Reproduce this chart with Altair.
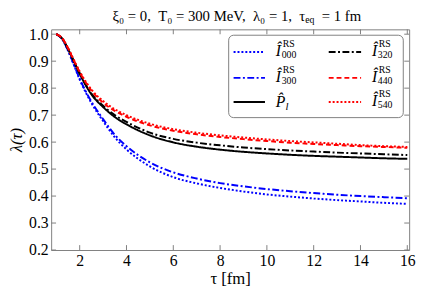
import altair as alt
import pandas as pd

# ---------------- data ----------------
tau = [1, 1.25, 1.5, 1.75, 2, 2.5, 3, 3.5, 4, 5, 6, 7, 8, 9, 10, 11, 12, 13, 14, 15, 16]
I000 = [1.0, 0.982, 0.939, 0.886, 0.832, 0.745, 0.678, 0.618, 0.573, 0.510, 0.470, 0.447, 0.430, 0.417, 0.406, 0.398, 0.391, 0.385, 0.380, 0.375, 0.371]
I300 = [1.0, 0.982, 0.940, 0.888, 0.835, 0.750, 0.685, 0.627, 0.585, 0.525, 0.488, 0.465, 0.448, 0.436, 0.426, 0.418, 0.411, 0.405, 0.400, 0.396, 0.392]
Pl   = [1.0, 0.984, 0.945, 0.899, 0.853, 0.777, 0.730, 0.693, 0.666, 0.625, 0.599, 0.583, 0.572, 0.564, 0.558, 0.553, 0.549, 0.546, 0.543, 0.540, 0.538]
I320 = [1.0, 0.984, 0.946, 0.900, 0.855, 0.780, 0.735, 0.700, 0.675, 0.635, 0.612, 0.598, 0.588, 0.580, 0.574, 0.569, 0.565, 0.561, 0.558, 0.555, 0.552]
I440 = [1.0, 0.985, 0.948, 0.903, 0.859, 0.791, 0.746, 0.716, 0.694, 0.662, 0.642, 0.629, 0.619, 0.611, 0.604, 0.598, 0.593, 0.589, 0.585, 0.582, 0.579]
I540 = [1.0, 0.985, 0.950, 0.905, 0.862, 0.795, 0.752, 0.722, 0.700, 0.668, 0.648, 0.635, 0.625, 0.617, 0.610, 0.604, 0.599, 0.594, 0.589, 0.585, 0.582]

series_keys = ["I000", "I300", "Pl", "I320", "I440", "I540"]
series_vals = [I000, I300, Pl, I320, I440, I540]
series_sub = ["000", "300", "l", "320", "440", "540"]

x_ticks = [2, 4, 6, 8, 10, 12, 14, 16]
y_ticks = [0.2, 0.3, 0.4, 0.5, 0.6, 0.7, 0.8, 0.9, 1.0]

# ---------------- styles ----------------
colors = {"I000": "#0000ff", "I300": "#0000ff", "Pl": "#000000",
          "I320": "#000000", "I440": "#ff0000", "I540": "#ff0000"}
dashes = {"I000": [2, 2], "I300": [7, 2.5, 2, 2.5], "Pl": [1, 0],
          "I320": [7, 2.5, 2, 2.5], "I440": [5, 3], "I540": [2, 2]}

W, H = 365, 225
FONT = "Liberation Serif, Times New Roman, DejaVu Serif, serif"
GRAY = "#808080"
NB = "\u00a0"

rows = []
for k, vals in zip(series_keys, series_vals):
    for t, v in zip(tau, vals):
        rows.append({"tau": t, "lam": v, "s": k})
df = pd.DataFrame(rows)

xs = alt.Scale(domain=[0.78, 16.08], nice=False, zero=False)
ys = alt.Scale(domain=[0.2, 1.018], nice=False, zero=False)
xaxis = alt.Axis(values=x_ticks, ticks=False, domain=False, grid=False, labelPadding=3,
                 labelFont=FONT, labelFontSize=16, labelColor="black",
                 titleFont=FONT, titleFontSize=17, titleFontWeight="normal", titleColor="black",
                 titleY=29, titleBaseline="middle", labelFlush=False)
yaxis = alt.Axis(values=y_ticks, ticks=False, domain=False, grid=False, labelPadding=3,
                 format=".1f", labelFont=FONT, labelFontSize=16, labelColor="black",
                 titleFont=FONT, titleFontSize=17, titleFontWeight="normal", titleColor="black",
                 titleFontStyle="italic", titleX=-35, titleY=H / 2, titleBaseline="middle",
                 labelFlush=False)
X = alt.X("tau:Q", scale=xs, axis=xaxis, title="τ [fm]")
Y = alt.Y("lam:Q", scale=ys, axis=yaxis, title="λ(τ)")

layers = []
for k in series_keys:
    layers.append(
        alt.Chart(df[df.s == k]).mark_line(
            color=colors[k], strokeDash=dashes[k], strokeWidth=2, interpolate="monotone", clip=True
        ).encode(x=X, y=Y)
    )

# inward ticks on all four sides
xt = pd.DataFrame({"tau": x_ticks})
yt = pd.DataFrame({"lam": y_ticks})
tick_style = dict(color=GRAY, strokeWidth=1)
layers.append(alt.Chart(xt).mark_rule(**tick_style).encode(x=X, y=alt.value(H - 5), y2=alt.value(H)))
layers.append(alt.Chart(xt).mark_rule(**tick_style).encode(x=X, y=alt.value(0), y2=alt.value(5)))
layers.append(alt.Chart(yt).mark_rule(**tick_style).encode(y=Y, x=alt.value(0), x2=alt.value(5)))
layers.append(alt.Chart(yt).mark_rule(**tick_style).encode(y=Y, x=alt.value(W - 5), x2=alt.value(W)))

one = alt.Data(values=[{"a": 0}])

def txt(s, x, y, size, align="left", style="normal"):
    return alt.Chart(one).mark_text(
        align=align, baseline="alphabetic", font=FONT, fontSize=size, fontStyle=style, color="black"
    ).encode(x=alt.value(x), y=alt.value(y), text=alt.value(s))

# legend frame
layers.append(alt.Chart(one).mark_rect(fill="white", stroke=GRAY, strokeWidth=1, cornerRadius=5).encode(
    x=alt.value(181), x2=alt.value(359), y=alt.value(6), y2=alt.value(90)))

row_y = [23, 49.5, 74]
col_sample = [(186, 218), (283, 316)]
col_text = [229, 327]
for i, k in enumerate(series_keys):
    c, r = divmod(i, 3)
    yy = row_y[r]
    x0, x1 = col_sample[c]
    layers.append(alt.Chart(one).mark_rule(color=colors[k], strokeDash=dashes[k], strokeWidth=2).encode(
        x=alt.value(x0), x2=alt.value(x1), y=alt.value(yy)))
    tx = col_text[c]
    if k == "Pl":
        layers.append(txt("P̂", tx, yy + 5, 16, style="italic"))
        layers.append(txt(series_sub[i], tx + 10, yy + 8, 11, style="italic"))
    else:
        layers.append(txt("Î", tx, yy + 4, 16, style="italic"))
        layers.append(txt("RS", tx + 7, yy - 5, 10))
        layers.append(txt(series_sub[i], tx + 6, yy + 6, 10))

# title
title_main = f"ξ₀ = 0,{NB} T₀ = 300{NB}MeV,{NB} λ₀ = 1,{NB} τ"
layers.append(txt(title_main, 259, -9, 15, align="right"))
layers.append(txt("eq", 259, -6, 10))
layers.append(txt(f"= 1{NB}fm", 276, -9, 15))

chart = alt.layer(*layers).properties(
    width=W, height=H,
    autosize=alt.AutoSizeParams(type="none"),
    padding={"left": 44, "top": 19, "right": 8, "bottom": 38},
).configure_view(stroke=GRAY, strokeWidth=1)

chart.save("out.html", embed_options={"renderer": "svg", "actions": False})
